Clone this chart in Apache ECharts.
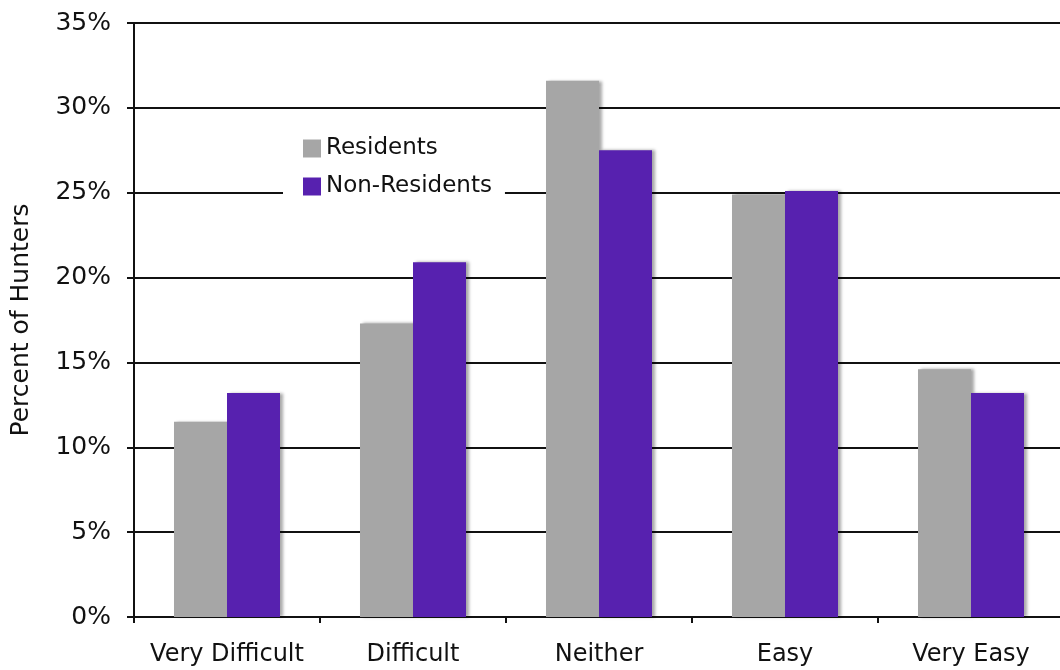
<!DOCTYPE html>
<html><head><meta charset="utf-8">
<script src="https://cdn.jsdelivr.net/npm/echarts@6/dist/echarts.min.js"></script>
<style>html,body{margin:0;padding:0;background:#fff}#c{width:1060px;height:670px}</style>
</head><body><div id="c"></div>
<script>
const categories = ['Very Difficult', 'Difficult', 'Neither', 'Easy', 'Very Easy'];
const residents = [11.5, 17.3, 31.6, 24.9, 14.6];
const nonResidents = [13.2, 20.9, 27.5, 25.1, 13.2];
const seriesNames = ['Residents', 'Non-Residents'];
const FONT = '"DejaVu Sans", Verdana, sans-serif';
const chart = echarts.init(document.getElementById('c'));
const shadow = {shadowColor: 'rgba(0,0,0,0.35)', shadowBlur: 3, shadowOffsetX: 3, shadowOffsetY: 0};
chart.setOption({
  animation: false,
  backgroundColor: '#fff',
  grid: {left: 134, top: 23, width: 930, height: 594, containLabel: false, outerBoundsMode: 'none'},
  legend: {
    orient: 'vertical', left: 283, top: 133,
    backgroundColor: '#fff', padding: [4, 13, 4, 20],
    itemWidth: 18, itemHeight: 18, itemGap: 15,
    textStyle: {fontFamily: FONT, fontSize: 23, color: '#111'},
    data: seriesNames.map(n => ({name: n, icon: 'rect'}))
  },
  xAxis: {
    type: 'category', data: categories,
    axisLine: {lineStyle: {color: '#111', width: 2}},
    axisTick: {show: true, length: 6, alignWithLabel: false, lineStyle: {color: '#111', width: 2}},
    axisLabel: {fontFamily: FONT, fontSize: 24, color: '#111', margin: 26, interval: 0}
  },
  yAxis: {
    type: 'value', min: 0, max: 35, interval: 5,
    name: 'Percent of Hunters', nameLocation: 'middle', nameGap: 100,
    nameTextStyle: {fontFamily: FONT, fontSize: 25, color: '#111'},
    axisLine: {show: true, lineStyle: {color: '#111', width: 2}},
    axisTick: {show: true, length: 7, lineStyle: {color: '#111', width: 2}},
    axisLabel: {fontFamily: FONT, fontSize: 25, color: '#111', margin: 23, formatter: '{value}%'},
    splitLine: {lineStyle: {color: '#111', width: 2}}
  },
  series: [
    {name: seriesNames[0], type: 'bar', data: residents, barWidth: 53, barGap: '0%',
     itemStyle: Object.assign({color: '#A6A6A6'}, shadow)},
    {name: seriesNames[1], type: 'bar', data: nonResidents, barWidth: 53, barGap: '0%',
     itemStyle: Object.assign({color: '#5721AF'}, shadow)}
  ]
});
</script></body></html>
